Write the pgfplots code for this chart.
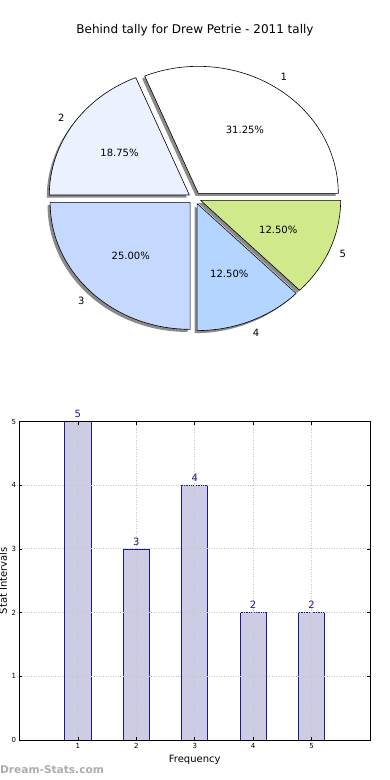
\documentclass[border=0pt]{standalone}
\usepackage{pgfplots}
\pgfplotsset{compat=1.18}
\usepackage{fontspec}
\setmainfont{DejaVu Sans}
\usetikzlibrary{calc}
\pgfkeys{/pgf/number format/assume math mode=true}
\definecolor{pieA}{HTML}{FFFFFF}
\definecolor{pieB}{HTML}{EBF1FF}
\definecolor{pieC}{HTML}{C5D8FF}
\definecolor{pieD}{HTML}{B3D5FF}
\definecolor{pieE}{HTML}{D0EA8B}
\definecolor{barfill}{HTML}{CCCCE5}
\definecolor{baredge}{HTML}{1A1A8C}
\definecolor{shadowgray}{HTML}{8A8A8A}
\begin{document}
\begin{tikzpicture}[x=1pt,y=1pt]
\useasboundingbox (0,0) rectangle (390,780);
\node[font=\fontsize{12}{14}\selectfont] at (195,750) {Behind tally for Drew Petrie - 2011 tally};
\begin{axis}[at={(194.7pt,581.8pt)}, anchor=center, scale only axis,
  width=364pt, height=330.2pt, xmin=-1.3, xmax=1.3, ymin=-1.3, ymax=1.3,
  hide axis, clip=false]
\pgfplotsextra{
  \gdef\cum{0}
  \foreach \v/\c/\l in {5/pieA/1,3/pieB/2,4/pieC/3,2/pieD/4,2/pieE/5}{
    \pgfmathsetmacro{\s}{\cum}
    \pgfmathsetmacro{\e}{\cum+\v/16*360}
    \xdef\cum{\e}
    \pgfmathsetmacro{\m}{(\s+\e)/2}
    \pgfmathsetmacro{\ox}{0.046*cos(\m)}
    \pgfmathsetmacro{\oy}{0.046*sin(\m)}
    \fill[shadowgray] ($(axis cs:\ox,\oy)+(-2.6pt,-2.6pt)$) -- +(\s:140pt and 127pt)
      arc[start angle=\s, end angle=\e, x radius=140pt, y radius=127pt] -- cycle;
  }
  \gdef\cum{0}
  \foreach \v/\c/\l in {5/pieA/1,3/pieB/2,4/pieC/3,2/pieD/4,2/pieE/5}{
    \pgfmathsetmacro{\s}{\cum}
    \pgfmathsetmacro{\e}{\cum+\v/16*360}
    \xdef\cum{\e}
    \pgfmathsetmacro{\m}{(\s+\e)/2}
    \pgfmathsetmacro{\ox}{0.046*cos(\m)}
    \pgfmathsetmacro{\oy}{0.046*sin(\m)}
    \filldraw[fill=\c, draw=black, line width=0.6pt, line join=round] (axis cs:\ox,\oy) -- +(\s:140pt and 127pt)
      arc[start angle=\s, end angle=\e, x radius=140pt, y radius=127pt] -- cycle;
    \pgfmathsetmacro{\lx}{\ox+1.1*cos(\m)}
    \pgfmathsetmacro{\ly}{\oy+1.1*sin(\m)}
    \node[font=\fontsize{10}{12}\selectfont] at (axis cs:\lx,\ly) {\l};
    \pgfmathsetmacro{\px}{\ox+0.6*cos(\m)}
    \pgfmathsetmacro{\py}{\oy+0.6*sin(\m)}
    \pgfmathsetmacro{\pct}{\v/16*100}
    \node[font=\fontsize{10}{12}\selectfont] at (axis cs:\px,\py) {\pgfmathprintnumber[fixed,precision=2,fixed zerofill,assume math mode=true]{\pct}\%};
  }
}
\end{axis}
\begin{axis}[at={(19.5pt,40pt)}, anchor=south west, scale only axis,
  width=350.5pt, height=318.5pt,
  xmin=0, xmax=6, ymin=0, ymax=5,
  xtick={1,2,3,4,5}, ytick={0,1,2,3,4,5},
  /pgf/number format/assume math mode=true,
  grid=major, grid style={dotted, gray!45, line width=0.9pt},
  axis on top, tick align=inside, major tick length=3pt,
  tick style={black, line width=0.5pt},
  axis line style={line width=0.8pt},
  ticklabel style={font=\fontsize{7}{8}\selectfont},
  xlabel={Frequency}, ylabel={Stat Intervals},
  label style={font=\fontsize{10}{12}\selectfont},
  xlabel style={at={(axis description cs:0.5,0)}, anchor=center, yshift=-20pt},
  ylabel style={at={(axis description cs:-0.047,0.5)}, anchor=center},
]
\addplot[ybar, bar width=0.45, fill=barfill, draw=baredge, line width=0.8pt,
  nodes near coords, nodes near coords style={text=baredge, font=\fontsize{10}{12}\selectfont}]
  coordinates {(1,5) (2,3) (3,4) (4,2) (5,2)};
\end{axis}
\node[anchor=west, text=gray!65, font=\bfseries\fontsize{10.6}{12}\selectfont, inner sep=0pt] at (0,10) {Dream-Stats.com};
\end{tikzpicture}
\end{document}
